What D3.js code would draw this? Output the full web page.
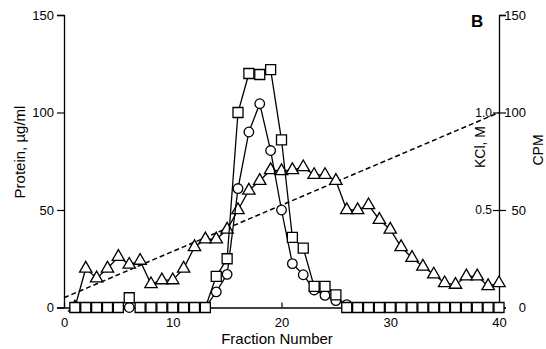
<!DOCTYPE html>
<html><head><meta charset="utf-8">
<script src="https://cdn.jsdelivr.net/npm/d3@7"></script>
<style>
body{margin:0;background:#fff;}
svg{display:block;font-family:"Liberation Sans",Arial,Helvetica,sans-serif;}
</style></head>
<body>
<svg id="chart" width="546" height="349"></svg>
<script>
// ---- data ----
const fractions = d3.range(1, 41);
const squares = [0,0,0,0,0,5,0,0,0,0,0,0,0,16,25,100,120,119.5,122,86,36,30.5,10.8,10.8,6.5,0,0,0,0,0,0,0,0,0,0,0,0,0,0,0];
const circles = [0,0,0,0,0,0,0,0,0,0,0,0,0,8,17,61,90,104.5,80.5,50,22.5,16.8,9,6.2,3.5,1.5,0,0,0,0,0,0,0,0,0,0,0,0,0,0];
const triangles = [0,20,15,20,26,22,24,12,14,14,20,31,35,35,40,50,60,65,70.5,70,70.5,72,68,68,65,50,50,52.5,45,40,31,25.5,21,17,12.5,11.7,16,16,11,12.5];
const kclFractions = [0, 40];
const kclValues = [0.05, 1.0];
const xTicks = [0,10,20,30,40];
const yTicks = [0,50,100,150];
const kclTicks = [0.5, 1.0];

// ---- scales ----
const svg = d3.select("#chart");
const x = d3.scaleLinear().domain([0,40]).range([64,499]);
const y = d3.scaleLinear().domain([0,150]).range([307.5,15]);
const yK = d3.scaleLinear().domain([0,1.5]).range([307.5,15]);

const font = 13;

// ---- axes ----
const gL = svg.append("g").attr("transform",`translate(${x(0)},0)`);
gL.call(d3.axisLeft(y).tickValues(d3.range(0,151,10).filter(v=>v%50!==0)).tickSize(3).tickFormat(""));
gL.call(d3.axisLeft(y).tickValues(yTicks).tickSize(7).tickPadding(3));
gL.selectAll("text").attr("font-size",font).attr("font-family","Liberation Sans, Arial, sans-serif").attr("fill","#000");
gL.selectAll("path.domain").attr("stroke","#000").attr("stroke-width",1.3);
gL.selectAll("line").attr("stroke","#000").attr("stroke-width",1.2);

const gR = svg.append("g").attr("transform",`translate(${x(40)},0)`);
gR.call(d3.axisLeft(y).tickValues(d3.range(0,151,10).filter(v=>v%50!==0)).tickSize(3).tickFormat(""));
gR.call(d3.axisRight(y).tickValues(yTicks).tickSize(7).tickPadding(3));
gR.selectAll("text").attr("font-size",font).attr("font-family","Liberation Sans, Arial, sans-serif").attr("fill","#000")
  .attr("text-anchor","end").attr("x",27);
gR.selectAll("path.domain").attr("stroke","#000").attr("stroke-width",1.3);
gR.selectAll("line").attr("stroke","#000").attr("stroke-width",1.2);
const gK = svg.append("g").attr("transform",`translate(${x(40)},0)`);
gK.call(d3.axisLeft(yK).tickValues(kclTicks).tickSize(6).tickPadding(1).tickFormat(d3.format(".1f")));
gK.selectAll("path.domain").remove();
gK.selectAll("text").attr("font-size",font-1).attr("font-family","Liberation Sans, Arial, sans-serif").attr("fill","#000");
gK.selectAll("line").attr("stroke","#000").attr("stroke-width",1.2);

const gB = svg.append("g").attr("transform",`translate(0,${y(0)})`);
gB.call(d3.axisTop(x).tickValues([5,15,25,35]).tickSize(3).tickFormat(""));
gB.call(d3.axisBottom(x).tickValues(xTicks).tickSize(0).tickPadding(10));
gB.call(g=>g.selectAll(".tick").filter(d=>xTicks.includes(d)).append("line").attr("y2",-5).attr("stroke","#000"));
gB.selectAll("text").attr("font-size",font).attr("font-family","Liberation Sans, Arial, sans-serif").attr("fill","#000");
gB.selectAll("path.domain").attr("stroke","#000").attr("stroke-width",1.3);
gB.selectAll("line").attr("stroke","#000").attr("stroke-width",1.2);

// ---- KCl dashed gradient ----
const kclData = kclFractions.map((f,i)=>({f, v:kclValues[i]}));
svg.append("path").datum(kclData)
  .attr("d", d3.line().x(d=>x(d.f)).y(d=>yK(d.v)))
  .attr("fill","none").attr("stroke","#000").attr("stroke-width",1.5).attr("stroke-dasharray","5,3");

// ---- series ----
function series(vals, symType, size){
  const data = fractions.map((f,i)=>({f, v:vals[i]}));
  svg.append("path").datum(data)
    .attr("d", d3.line().x(d=>x(d.f)).y(d=>y(d.v)))
    .attr("fill","none").attr("stroke","#000").attr("stroke-width",1.3);
  svg.append("g").selectAll("path").data(data).join("path")
    .attr("transform", d=>`translate(${x(d.f)},${y(d.v)})`)
    .attr("d", d3.symbol().type(symType).size(size))
    .attr("fill","#fff").attr("stroke","#000").attr("stroke-width",1.3);
}
series(triangles, d3.symbolTriangle, 66);
series(circles, d3.symbolCircle, 72);
series(squares, d3.symbolSquare, 100);

// ---- labels ----
svg.append("text").attr("transform","translate(25,152) rotate(-90)")
  .attr("text-anchor","middle").attr("font-size",15).text("Protein, µg/ml");
svg.append("text").attr("transform","translate(485,147) rotate(-90)")
  .attr("text-anchor","middle").attr("font-size",14).text("KCl, M");
svg.append("text").attr("transform","translate(543,150) rotate(-90)")
  .attr("text-anchor","middle").attr("font-size",14).text("CPM");
svg.append("text").attr("x",277).attr("y",344)
  .attr("text-anchor","middle").attr("font-size",15).text("Fraction Number");
svg.append("text").attr("x",471).attr("y",27)
  .attr("font-size",17).attr("font-weight","bold").text("B");
</script>
</body></html>
